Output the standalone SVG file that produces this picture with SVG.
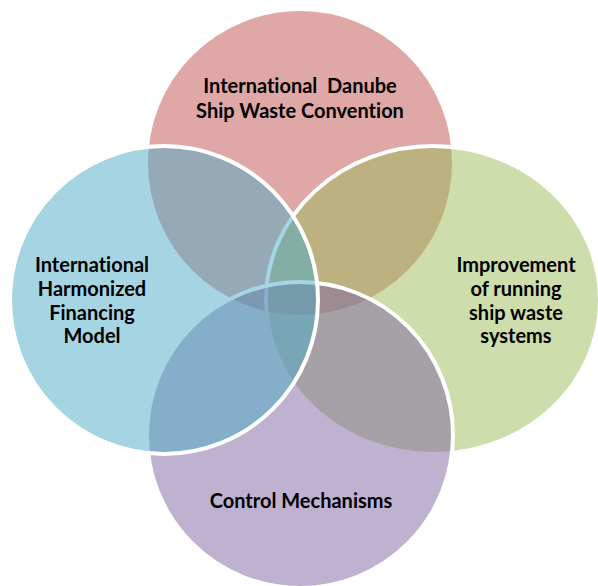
<svg xmlns="http://www.w3.org/2000/svg" width="598" height="586" viewBox="0 0 598 586">
<style>
.sh{fill-opacity:0.5;stroke:#FFFFFF;stroke-width:4}
.t{font-family:Lato,"Liberation Sans",Arial,sans-serif;font-weight:bold;font-size:20px;fill:#000000;text-anchor:middle;white-space:pre;font-variant-ligatures:none}
</style>
<rect width="598" height="586" fill="#FFFFFF"/>
<g id="node-convention">
<circle class="sh" cx="300" cy="163" r="154" fill="#C0504D"/>
<text class="t" x="300" y="93" xml:space="preserve">International  Danube</text>
<text class="t" x="300" y="118">Ship Waste Convention</text>
</g>
<g id="node-improvement">
<ellipse class="sh" cx="433" cy="300" rx="167" ry="154" fill="#9BBB59"/>
<text class="t" x="516" y="272">Improvement</text>
<text class="t" x="516" y="296">of running</text>
<text class="t" x="516" y="320">ship waste</text>
<text class="t" x="516" y="343">systems</text>
</g>
<g id="node-control">
<circle class="sh" cx="300" cy="435" r="153" fill="#8064A2"/>
<text class="t" x="301" y="508">Control Mechanisms</text>
</g>
<g id="node-financing">
<circle class="sh" cx="164" cy="300" r="154" fill="#4BACC6"/>
<text class="t" x="92" y="272">International</text>
<text class="t" x="92" y="296">Harmonized</text>
<text class="t" x="92" y="320">Financing</text>
<text class="t" x="92" y="343">Model</text>
</g>
</svg>
